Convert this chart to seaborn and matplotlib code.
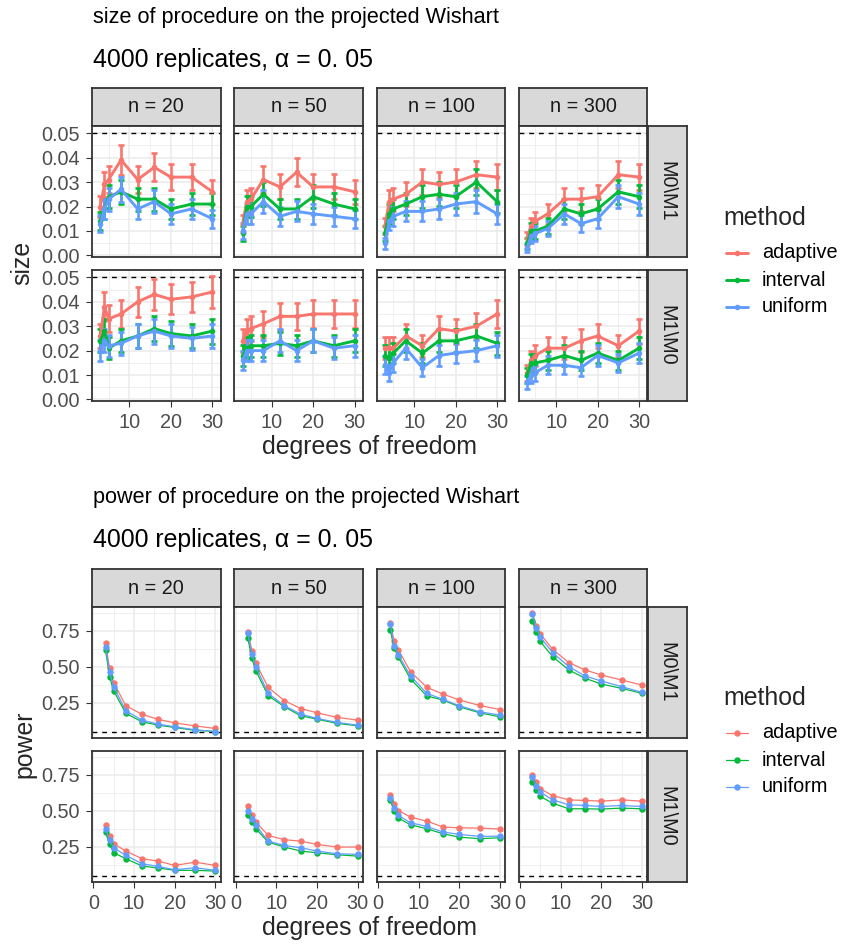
import numpy as np
import pandas as pd
import matplotlib
matplotlib.use("Agg")
import matplotlib.pyplot as plt
import seaborn as sns
from matplotlib.lines import Line2D
from matplotlib.ticker import MultipleLocator

# ---------------- data ----------------
dof = [3, 4, 5, 8, 12, 16, 20, 25, 30]
sample_sizes = [20, 50, 100, 300]
methods = ["adaptive", "interval", "uniform"]
tests = ["M0\\M1", "M1\\M0"]
replicates = 4000
alpha = 0.05

# rows: n = 20, 50, 100, 300 ; columns: dof
size_m0m1_adaptive = [
    [0.020, 0.029, 0.031, 0.039, 0.031, 0.036, 0.032, 0.032, 0.026],
    [0.013, 0.022, 0.023, 0.031, 0.028, 0.034, 0.028, 0.028, 0.026],
    [0.012, 0.022, 0.023, 0.025, 0.030, 0.029, 0.030, 0.033, 0.032],
    [0.007, 0.012, 0.014, 0.017, 0.023, 0.023, 0.024, 0.033, 0.032]]
size_m0m1_interval = [
    [0.014, 0.019, 0.024, 0.026, 0.023, 0.023, 0.019, 0.021, 0.021],
    [0.009, 0.020, 0.020, 0.025, 0.019, 0.019, 0.024, 0.021, 0.019],
    [0.009, 0.017, 0.019, 0.021, 0.024, 0.025, 0.024, 0.030, 0.022],
    [0.005, 0.010, 0.010, 0.012, 0.019, 0.017, 0.019, 0.026, 0.024]]
size_m0m1_uniform = [
    [0.013, 0.019, 0.023, 0.027, 0.019, 0.022, 0.017, 0.019, 0.015],
    [0.010, 0.017, 0.017, 0.022, 0.016, 0.018, 0.017, 0.016, 0.015],
    [0.005, 0.014, 0.016, 0.018, 0.018, 0.019, 0.021, 0.022, 0.017],
    [0.003, 0.008, 0.009, 0.011, 0.017, 0.013, 0.015, 0.024, 0.021]]
size_m1m0_adaptive = [
    [0.026, 0.038, 0.033, 0.035, 0.040, 0.043, 0.041, 0.042, 0.044],
    [0.024, 0.028, 0.029, 0.031, 0.034, 0.034, 0.035, 0.035, 0.035],
    [0.021, 0.021, 0.021, 0.026, 0.022, 0.029, 0.028, 0.030, 0.035],
    [0.011, 0.016, 0.018, 0.021, 0.021, 0.024, 0.026, 0.022, 0.028]]
size_m1m0_interval = [
    [0.024, 0.028, 0.021, 0.024, 0.026, 0.029, 0.027, 0.026, 0.028],
    [0.018, 0.021, 0.022, 0.022, 0.023, 0.022, 0.024, 0.022, 0.024],
    [0.018, 0.017, 0.019, 0.024, 0.019, 0.024, 0.024, 0.026, 0.023],
    [0.010, 0.015, 0.015, 0.016, 0.018, 0.016, 0.019, 0.016, 0.021]]
size_m1m0_uniform = [
    [0.020, 0.024, 0.022, 0.023, 0.026, 0.028, 0.026, 0.025, 0.026],
    [0.016, 0.020, 0.020, 0.020, 0.024, 0.020, 0.024, 0.021, 0.022],
    [0.014, 0.011, 0.015, 0.021, 0.013, 0.018, 0.019, 0.020, 0.022],
    [0.007, 0.010, 0.011, 0.014, 0.014, 0.013, 0.018, 0.015, 0.019]]

power_m0m1_adaptive = [
    [0.664, 0.490, 0.390, 0.229, 0.169, 0.134, 0.110, 0.089, 0.071],
    [0.745, 0.613, 0.524, 0.357, 0.264, 0.210, 0.180, 0.148, 0.129],
    [0.803, 0.676, 0.617, 0.466, 0.357, 0.310, 0.269, 0.231, 0.203],
    [0.873, 0.785, 0.729, 0.622, 0.529, 0.478, 0.443, 0.408, 0.373]]
power_m0m1_interval = [
    [0.617, 0.431, 0.334, 0.176, 0.117, 0.094, 0.078, 0.058, 0.050],
    [0.699, 0.559, 0.471, 0.299, 0.222, 0.159, 0.136, 0.106, 0.090],
    [0.757, 0.629, 0.566, 0.415, 0.297, 0.269, 0.222, 0.180, 0.152],
    [0.822, 0.745, 0.676, 0.571, 0.478, 0.420, 0.380, 0.350, 0.315]]
power_m0m1_uniform = [
    [0.641, 0.466, 0.362, 0.194, 0.129, 0.101, 0.083, 0.062, 0.050],
    [0.734, 0.590, 0.501, 0.315, 0.229, 0.171, 0.141, 0.113, 0.094],
    [0.799, 0.645, 0.583, 0.436, 0.315, 0.273, 0.229, 0.187, 0.164],
    [0.869, 0.769, 0.706, 0.599, 0.501, 0.436, 0.401, 0.362, 0.322]]
power_m1m0_adaptive = [
    [0.398, 0.322, 0.271, 0.220, 0.167, 0.150, 0.120, 0.143, 0.120],
    [0.532, 0.468, 0.421, 0.329, 0.299, 0.289, 0.266, 0.248, 0.248],
    [0.613, 0.549, 0.502, 0.456, 0.428, 0.387, 0.382, 0.380, 0.373],
    [0.750, 0.699, 0.653, 0.606, 0.576, 0.572, 0.567, 0.576, 0.567]]
power_m1m0_interval = [
    [0.352, 0.266, 0.208, 0.167, 0.116, 0.102, 0.086, 0.086, 0.081],
    [0.472, 0.421, 0.375, 0.282, 0.248, 0.220, 0.208, 0.194, 0.185],
    [0.576, 0.498, 0.449, 0.403, 0.375, 0.340, 0.317, 0.306, 0.313],
    [0.699, 0.646, 0.600, 0.553, 0.514, 0.514, 0.512, 0.519, 0.514]]
power_m1m0_uniform = [
    [0.375, 0.294, 0.243, 0.190, 0.132, 0.113, 0.090, 0.104, 0.086],
    [0.502, 0.444, 0.398, 0.289, 0.259, 0.243, 0.220, 0.201, 0.197],
    [0.590, 0.519, 0.468, 0.417, 0.391, 0.352, 0.336, 0.322, 0.324],
    [0.734, 0.674, 0.630, 0.576, 0.542, 0.537, 0.530, 0.537, 0.530]]

colors = {"adaptive": "#F8766D", "interval": "#00BA38", "uniform": "#619CFF"}


def build(tables):
    rows = []
    for (test, method), table in tables.items():
        for n, vals in zip(sample_sizes, table):
            for d, v in zip(dof, vals):
                rows.append(dict(test=test, method=method, n=n, df=d, value=v))
    out = pd.DataFrame(rows)
    se = np.sqrt(out["value"] * (1 - out["value"]) / replicates)
    out["lo"] = out["value"] - 1.96 * se
    out["hi"] = out["value"] + 1.96 * se
    return out


size_df = build({
    (tests[0], "adaptive"): size_m0m1_adaptive,
    (tests[0], "interval"): size_m0m1_interval,
    (tests[0], "uniform"): size_m0m1_uniform,
    (tests[1], "adaptive"): size_m1m0_adaptive,
    (tests[1], "interval"): size_m1m0_interval,
    (tests[1], "uniform"): size_m1m0_uniform,
})
power_df = build({
    (tests[0], "adaptive"): power_m0m1_adaptive,
    (tests[0], "interval"): power_m0m1_interval,
    (tests[0], "uniform"): power_m0m1_uniform,
    (tests[1], "adaptive"): power_m1m0_adaptive,
    (tests[1], "interval"): power_m1m0_interval,
    (tests[1], "uniform"): power_m1m0_uniform,
})

# ---------------- style ----------------
sns.set_theme(style="white")
plt.rcParams["font.family"] = ["Liberation Sans", "DejaVu Sans"]

W, H = 843, 948
fig = plt.figure(figsize=(W / 100, H / 100), dpi=100)
fig.patch.set_facecolor("white")

BASE = 17.9
SMALL = 14.3
TITLE = 15.6
DARK = "#333333"
GRID = "#EBEBEB"

col_x = [(92.0, 220.7), (234.3, 363.0), (376.7, 505.4), (518.7, 647.4)]
strip_r = (648.0, 686.5)


def fbox(x0, y0, x1, y1):
    return [x0 / W, 1 - y1 / H, (x1 - x0) / W, (y1 - y0) / H]


def fx(x):
    return x / W


def fy(y):
    return 1 - y / H


def style_axes(ax, xlim, ylim, xmaj, xmin_, ymaj, ymin_, show_x, show_y, yfmt):
    ax.set_facecolor("white")
    ax.set_xlim(*xlim)
    ax.set_ylim(*ylim)
    ax.xaxis.set_major_locator(MultipleLocator(xmaj))
    ax.xaxis.set_minor_locator(MultipleLocator(xmin_))
    ax.yaxis.set_major_locator(MultipleLocator(ymaj))
    ax.yaxis.set_minor_locator(MultipleLocator(ymin_))
    ax.set_axisbelow(True)
    ax.grid(which="major", color=GRID, lw=1.1)
    ax.grid(which="minor", color=GRID, lw=0.55)
    for s in ax.spines.values():
        s.set_color(DARK)
        s.set_linewidth(1.3)
    ax.tick_params(which="minor", length=0)
    ax.tick_params(which="major", length=4.3, width=0.8, color=DARK,
                   labelsize=SMALL, labelcolor="#4D4D4D", pad=4.5)
    ax.tick_params(axis="x", bottom=show_x, labelbottom=show_x)
    ax.tick_params(axis="y", left=show_y, labelleft=show_y)
    if show_y:
        ax.yaxis.set_major_formatter(matplotlib.ticker.FuncFormatter(yfmt))
    ax.set_xlabel("")
    ax.set_ylabel("")


def add_strip(box, text, rot=0):
    sax = fig.add_axes(fbox(*box))
    sax.set_facecolor("#D9D9D9")
    sax.set_xticks([])
    sax.set_yticks([])
    for s in sax.spines.values():
        s.set_color(DARK)
        s.set_linewidth(1.3)
    sax.text(0.5, 0.5, text, transform=sax.transAxes, ha="center", va="center",
             fontsize=SMALL, color="#1A1A1A", rotation=rot)


def draw_section(data, kind, y_strip, rows_y, xlim, ylim, xmaj, xmin_, ymaj, ymin_, yfmt):
    for ci, n in enumerate(sample_sizes):
        x0, x1 = col_x[ci]
        add_strip((x0, y_strip[0], x1, y_strip[1]), f"n = {n}")
    for ri, test in enumerate(tests):
        y0, y1 = rows_y[ri]
        add_strip((strip_r[0], y0, strip_r[1], y1), test, rot=270)
        for ci, n in enumerate(sample_sizes):
            x0, x1 = col_x[ci]
            ax = fig.add_axes(fbox(x0, y0, x1, y1))
            sub = data[(data["test"] == test) & (data["n"] == n)]
            ax.axhline(alpha, color="black", ls=(0, (3.5, 3.5)), lw=1.0, zorder=1)
            if kind == "size":
                for m in methods:
                    sm = sub[sub["method"] == m]
                    ax.errorbar(sm["df"], sm["value"],
                                yerr=[sm["value"] - sm["lo"], sm["hi"] - sm["value"]],
                                fmt="none", ecolor=colors[m], elinewidth=1.9,
                                capsize=2.0, capthick=1.9, zorder=2)
                sns.lineplot(data=sub, x="df", y="value", hue="method",
                             hue_order=methods, palette=colors, marker="o",
                             markersize=4.0, markeredgewidth=0, linewidth=2.1,
                             legend=False, ax=ax, zorder=3)
            else:
                sns.lineplot(data=sub, x="df", y="value", hue="method",
                             hue_order=methods, palette=colors, marker="o",
                             markersize=4.6, markeredgewidth=0, linewidth=0.9,
                             legend=False, ax=ax, zorder=3)
            style_axes(ax, xlim, ylim, xmaj, xmin_, ymaj, ymin_,
                       show_x=(ri == 1), show_y=(ci == 0), yfmt=yfmt)


# ---------- size section ----------
draw_section(size_df, "size", (88.3, 125.7), [(125.7, 256.7), (270.0, 400.7)],
             (1.0, 32.0), (-0.0005, 0.053), 10, 5, 0.01, 0.005,
             lambda v, p: f"{v:.2f}")
# ---------- power section ----------
draw_section(power_df, "power", (569.3, 606.7), [(606.7, 737.7), (750.7, 881.7)],
             (-0.32, 31.3), (0.007, 0.918), 10, 5, 0.25, 0.125,
             lambda v, p: f"{v:.2f}")

# titles
fig.text(fx(93), fy(17), "size of procedure on the projected Wishart",
         fontsize=TITLE, ha="left", va="center", color="black")
fig.text(fx(93), fy(60), "4000 replicates, \u03b1 = 0. 05",
         fontsize=BASE, ha="left", va="center", color="black")
fig.text(fx(93), fy(497), "power of procedure on the projected Wishart",
         fontsize=TITLE, ha="left", va="center", color="black")
fig.text(fx(93), fy(540), "4000 replicates, \u03b1 = 0. 05",
         fontsize=BASE, ha="left", va="center", color="black")

# axis titles
fig.text(fx(369.7), fy(447), "degrees of freedom", fontsize=BASE,
         ha="center", va="center")
fig.text(fx(369.7), fy(928), "degrees of freedom", fontsize=BASE,
         ha="center", va="center")
fig.text(fx(22), fy(263), "size", fontsize=BASE, rotation=90,
         ha="center", va="center")
fig.text(fx(24), fy(744), "power", fontsize=BASE, rotation=90,
         ha="center", va="center")


# legends
def legend(y_title, lw, ms):
    fig.text(fx(723), fy(y_title), "method", fontsize=BASE,
             ha="left", va="center")
    for i, m in enumerate(methods):
        yy = y_title + 35 + 27 * i
        fig.add_artist(Line2D([fx(726), fx(748)], [fy(yy), fy(yy)],
                              color=colors[m], lw=lw))
        fig.add_artist(Line2D([fx(737)], [fy(yy)], color=colors[m], marker="o",
                              markersize=ms, markeredgewidth=0, lw=0))
        fig.text(fx(762), fy(yy), m, fontsize=SMALL, ha="left",
                 va="center", color="black")


legend(218, 2.1, 4.0)
legend(698, 0.9, 4.6)

fig.savefig("out.png", dpi=100, facecolor="white")
